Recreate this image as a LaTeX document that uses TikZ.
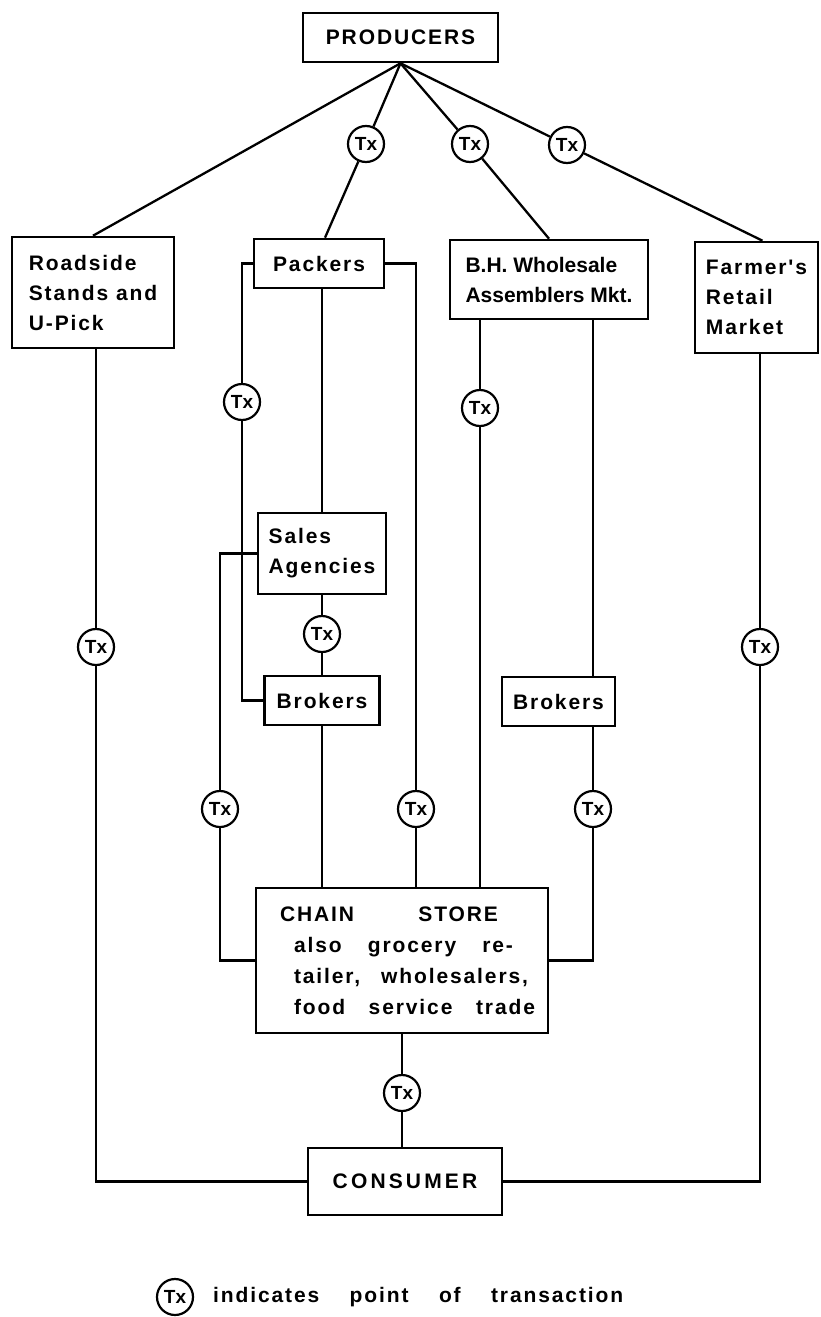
\documentclass[tikz,border=0pt]{standalone}
\usepackage{fontspec}
\setmainfont{Liberation Sans}
\newfontfamily\spacedfont[LetterSpace=9]{Liberation Sans Bold}
\newfontfamily\widefont[LetterSpace=15]{Liberation Sans Bold}
\newfontfamily\plainbold{Liberation Sans Bold}
\usetikzlibrary{calc}
\tikzset{
  box/.style={draw, line width=2.6pt, fill=white, inner sep=0pt, align=left,
    font={\spacedfont\fontsize{21}{30}\selectfont}},
  txnode/.style={circle, draw, line width=2.2pt, fill=white, minimum size=36pt,
    inner sep=0pt, font={\plainbold\fontsize{19}{19}\selectfont}},
  conn/.style={line width=2.3pt},
  legend/.style={inner sep=0pt, anchor=west, font={\spacedfont\fontsize{21}{30}\selectfont}}
}
\begin{document}
\begin{tikzpicture}[x=1pt,y=-1pt]
\useasboundingbox (0,0) rectangle (820,1317);

% boxes
\node[box, minimum width=195pt, minimum height=49pt] (prod) at (400.5,37.5) {PRODUCERS};
\node[box, minimum width=162pt, minimum height=111pt] (road) at (93,292.5) {Roadside\\Stands and\\U-Pick};
\node[box, minimum width=130pt, minimum height=49pt] (pack) at (319,263.5) {Packers};
\node[box, minimum width=198pt, minimum height=79pt, font={\plainbold\fontsize{21}{30}\selectfont}] (bh) at (549,279.5) {B.H. Wholesale\\Assemblers Mkt.};
\node[box, minimum width=123pt, minimum height=111pt] (farm) at (756.5,297.5) {Farmer's\\Retail\\Market};
\node[box, minimum width=128pt, minimum height=81pt] (sales) at (322,553.5) {Sales\\Agencies};
\node[box, minimum width=115pt, minimum height=49pt] (brok1) at (322,700.5) {Brokers};
\node[box, minimum width=113pt, minimum height=49pt] (brok2) at (558.5,701.5) {Brokers};
\node[box, minimum width=292pt, minimum height=145pt, font={\spacedfont\fontsize{21}{31}\selectfont}] (chain) at (402,960.5)
  {\hspace*{11pt}\hbox to 218pt{CHAIN\hfill STORE}\\
   \hspace*{25pt}\hbox to 219pt{also\hfill grocery\hfill re-}\\
   \hspace*{25pt}\hbox to 234pt{tailer,\hfill wholesalers,}\\
   \hspace*{25pt}\hbox to 241pt{food\hfill service\hfill trade}};
\node[box, minimum width=194pt, minimum height=67pt, font={\widefont\fontsize{21}{30}\selectfont}] (cons) at (405,1181.5) {CONSUMER};

% transaction points
\node[txnode] (t1) at (366,144) {Tx};
\node[txnode] (t2) at (470,144) {Tx};
\node[txnode] (t3) at (567,145) {Tx};
\node[txnode] (t4) at (242,402) {Tx};
\node[txnode] (t5) at (480,408) {Tx};
\node[txnode] (t6) at (96,647) {Tx};
\node[txnode] (t7) at (760,647) {Tx};
\node[txnode] (t8) at (322,634) {Tx};
\node[txnode] (t9) at (220,809) {Tx};
\node[txnode] (t10) at (416,809) {Tx};
\node[txnode] (t11) at (593,809) {Tx};
\node[txnode] (t12) at (402,1093) {Tx};

% connectors
\draw[conn] (prod.south) -- (road.north);
\draw[conn] (prod.south) -- (t1) -- ($(pack.north)+(6,0)$);
\draw[conn] (prod.south) -- (t2) -- (bh.north);
\draw[conn] (prod.south) -- (t3) -- ($(farm.north)+(6,0)$);

\draw[conn] (pack.west) -| (t4);
\draw[conn] (t4) |- (brok1.west);
\draw[conn] (pack.east) -| (t10);
\draw[conn] (t10) -- (t10 |- chain.north);
\draw[conn] (pack.south -| sales.north) -- (sales.north);
\draw[conn] (sales.south) -- (t8) -- (brok1.north);
\draw[conn] (sales.west) -| (t9);
\draw[conn] (t9) |- (chain.west);
\draw[conn] (brok1.south) -- (brok1.south |- chain.north);

\draw[conn] (t5 |- bh.south) -- (t5) -- (t5 |- chain.north);
\draw[conn] (t11 |- bh.south) -- (t11 |- brok2.north);
\draw[conn] (t11 |- brok2.south) -- (t11);
\draw[conn] (t11) |- (chain.east);

\draw[conn] (t6 |- road.south) -- (t6);
\draw[conn] (t6) |- (cons.west);
\draw[conn] (t7 |- farm.south) -- (t7);
\draw[conn] (t7) |- (cons.east);
\draw[conn] (chain.south) -- (t12) -- (t12 |- cons.north);

% legend
\node[txnode] (legtx) at (175,1297) {Tx};
\node[legend] (legtext) at (213,1297) {\hbox to 410pt{indicates\hfill point\hfill of\hfill transaction}};
\end{tikzpicture}
\end{document}
